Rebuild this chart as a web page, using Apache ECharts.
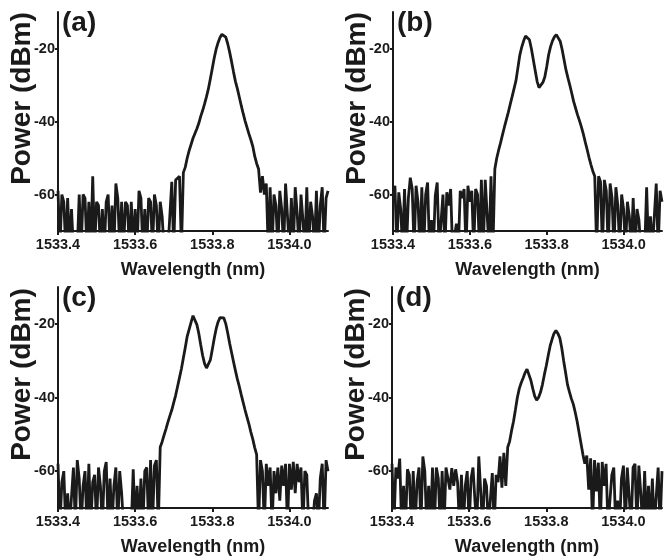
<!DOCTYPE html>
<html>
<head>
<meta charset="utf-8">
<title>Spectra</title>
<script src="https://cdn.jsdelivr.net/npm/echarts@6.0.0/dist/echarts.min.js"></script>
<style>
html, body { margin: 0; padding: 0; background: #fff; }
#main { width: 667px; height: 560px; }
</style>
</head>
<body>
<div id="main"></div>
<script>
// sampling of the traces: one value every 0.005 nm from 1533.400 nm
var wlStart = 1533.4;
var wlStep = 0.005;
var xTicks = [1533.4, 1533.6, 1533.8, 1534.0];
var yTicks = [-60, -40, -20];
var panelLabels = ['(a)', '(b)', '(c)', '(d)'];

// power in dBm (values below -70 sit under the axis floor)
var powerA = [
  -59, -75, -60, -62, -75, -61, -75, -64, -75, -75,
  -75, -60, -75, -60, -61, -75, -62, -75, -55, -75,
  -62, -63, -75, -64, -75, -62, -60, -75, -63, -75,
  -57, -61, -75, -62, -75, -62, -63, -75, -62, -75,
  -64, -75, -59, -61, -75, -64, -75, -61, -62, -75,
  -60, -63, -75, -62, -66, -75, -75, -75, -75, -56.5,
  -75, -56, -56.5, -55, -75, -54, -52.5, -50, -48, -46.3,
  -44.6, -43.3, -42, -40.5, -38.6, -37, -35.2, -33.2, -31, -28.3,
  -25.5, -22.6, -20.2, -18.4, -17, -16.1, -15.9, -16.9, -18.7, -21,
  -23.6, -26.4, -29, -31, -33.3, -35.6, -37.8, -39.8, -41.6, -43.4,
  -45, -46.8, -49.5, -51.5, -53, -59.5, -55, -60, -57, -75,
  -58, -75, -60, -63, -75, -59, -64, -75, -57, -66,
  -75, -61, -75, -58, -65, -75, -60, -67, -75, -58,
  -75, -62, -66, -75, -59, -75, -63, -58, -75, -61, -59
];

var powerB = [
  -60, -57.6, -75, -59.4, -64, -75, -58.5, -75, -61, -55.4,
  -58.5, -75, -57.6, -62, -75, -58, -75, -60, -56.7, -75,
  -67, -75, -60.3, -56.7, -75, -75, -60, -75, -59.4, -63,
  -58.5, -75, -75, -68, -75, -59, -61, -58.5, -75, -57.6,
  -62, -59, -75, -58.5, -60, -75, -56, -75, -56, -55.5,
  -75, -55, -75, -53, -50, -47.8, -45.8, -43.6, -41.5, -39.5,
  -37.5, -35.3, -33.2, -31, -28.8, -25.3, -21.8, -19.6, -17.9, -16.6,
  -16.1, -17.6, -20, -23, -26, -29, -30.7, -30.4, -29.3, -27.8,
  -25, -21.7, -19.5, -17.9, -16.8, -16.2, -16.2, -18, -20.2, -23,
  -25.8, -28, -30, -32.2, -34.5, -36.3, -38.1, -39.7, -41.4, -43.3,
  -45.5, -47.6, -49.8, -51.8, -53.6, -55, -75, -55, -56.5, -75,
  -56, -59, -75, -57, -61, -75, -58, -63, -75, -60,
  -64, -75, -62, -66, -75, -61, -75, -64, -67, -75,
  -75, -75, -58, -75, -66, -75, -75, -57, -75, -59, -62
];

var powerC = [
  -58, -75, -63, -60, -75, -66, -75, -75, -59, -75,
  -57, -62, -75, -64, -60, -75, -58, -75, -63, -61,
  -75, -59, -64, -75, -60, -57.5, -75, -62, -75, -64,
  -59, -75, -60, -66, -75, -75, -75, -75, -75, -59.5,
  -75, -64, -75, -62, -75, -60, -59, -75, -57, -75,
  -58.5, -57, -75, -53.5, -52, -50.2, -48.5, -46.7, -45, -43.4,
  -41.4, -39.4, -37, -34.6, -32.2, -29.3, -26.4, -23.4, -21.5, -19.6,
  -17.8, -18.2, -20.2, -22.6, -25.7, -28.6, -30.8, -32, -31.6, -29.8,
  -27, -24, -21.4, -19.5, -18.3, -17.8, -18.4, -20, -22.5, -25.3,
  -27.8, -30.3, -32.7, -35, -37, -39.2, -41.3, -43.4, -45.3, -47.2,
  -49.4, -51.3, -53.6, -55.5, -75, -57, -60, -75, -58, -64,
  -59, -75, -60, -66, -59, -68, -58.5, -64, -58, -75,
  -58, -65, -57.5, -66, -58, -63, -59, -75, -60, -61,
  -75, -75, -75, -68, -66, -75, -62, -58, -75, -57, -60
];

var powerD = [
  -58, -75, -59, -62, -56.6, -75, -64, -75, -59.5, -61,
  -75, -60, -75, -63, -59, -75, -56, -60, -75, -64,
  -75, -59, -75, -59, -62, -75, -60, -75, -59, -59.2,
  -65, -59.2, -64, -59.5, -63, -75, -61, -75, -64, -60,
  -75, -62, -59, -68, -75, -56, -55.5, -75, -62, -64,
  -75, -75, -60.5, -75, -61, -63, -56, -64.5, -55, -64,
  -53.5, -51.9, -49, -46.5, -43.3, -40, -37.6, -36, -34.7, -33.3,
  -32.3, -32.6, -35.3, -37.6, -39.6, -40.7, -40, -38.6, -36.5, -33.8,
  -31.4, -28.6, -26, -24.2, -22.6, -21.8, -22.6, -23.8, -26.5, -30,
  -33.2, -36.5, -38.5, -40.3, -41.8, -44, -46.5, -49.5, -52.5, -55.5,
  -58, -55.8, -65, -56.5, -75, -57, -65.5, -57.7, -75, -57.5,
  -64, -58, -75, -75, -61, -59, -75, -68, -75, -62,
  -58.5, -75, -59, -58.5, -75, -59, -58, -75, -58.5, -66,
  -75, -60, -75, -64, -75, -62, -75, -75, -59, -75, -60
];

var traces = [powerA, powerB, powerC, powerD];

var dom = document.getElementById('main');
var myChart = echarts.init(dom, null, { renderer: 'canvas' });

var ink = '#1a1a1a';
var sans = '"Liberation Sans", Arial, sans-serif';

var grids = [
  { left: 58, top: 12, width: 270, height: 219 },
  { left: 393, top: 12, width: 269, height: 219 },
  { left: 58, top: 287, width: 270, height: 221 },
  { left: 392, top: 287, width: 270, height: 221 }
];

function toPoints(arr) {
  return arr.map(function (v, i) {
    return [+(wlStart + i * wlStep).toFixed(3), v];
  });
}

var option = {
  animation: false,
  backgroundColor: '#fff',
  title: panelLabels.map(function (t, k) {
    return {
      text: t,
      left: grids[k].left + 4,
      top: grids[k].top - 3,
      padding: 0,
      textStyle: { fontFamily: sans, fontWeight: 'bold', fontSize: 28, color: ink }
    };
  }),
  grid: grids,
  xAxis: grids.map(function (g, k) {
    return {
      gridIndex: k,
      type: 'value',
      min: 1533.4,
      max: 1534.1,
      name: 'Wavelength (nm)',
      nameLocation: 'middle',
      nameGap: 30,
      nameMoveOverlap: false,
      nameTextStyle: { fontFamily: sans, fontWeight: 'bold', fontSize: 18, color: ink },
      axisLine: { show: true, onZero: false, lineStyle: { color: ink, width: 2 } },
      axisTick: { show: true, length: 4, customValues: xTicks, lineStyle: { color: ink, width: 2 } },
      axisLabel: {
        customValues: xTicks,
        margin: 6,
        fontFamily: sans, fontWeight: 'bold', fontSize: 14.5, color: ink,
        formatter: function (v) { return v.toFixed(1); }
      },
      splitLine: { show: false }
    };
  }),
  yAxis: grids.map(function (g, k) {
    return {
      gridIndex: k,
      type: 'value',
      min: -70,
      max: -10,
      name: 'Power (dBm)',
      nameLocation: 'middle',
      nameGap: 22,
      nameMoveOverlap: false,
      nameTextStyle: { fontFamily: sans, fontWeight: 'bold', fontSize: 28, color: ink, padding: [0, 0, 0, 46] },
      axisLine: { show: true, onZero: false, lineStyle: { color: ink, width: 2 } },
      axisTick: { show: true, length: 3, customValues: yTicks, lineStyle: { color: ink, width: 2 } },
      axisLabel: {
        customValues: yTicks,
        margin: 3,
        fontFamily: sans, fontWeight: 'bold', fontSize: 14.5, color: ink,
        formatter: function (v) { return String(Math.round(v)); }
      },
      splitLine: { show: false }
    };
  }),
  series: traces.map(function (arr, k) {
    return {
      type: 'line',
      xAxisIndex: k,
      yAxisIndex: k,
      showSymbol: false,
      symbol: 'none',
      clip: true,
      lineStyle: { color: ink, width: 2.8 },
      data: toPoints(arr)
    };
  })
};

if (option && typeof option === 'object') {
  myChart.setOption(option);
}

window.addEventListener('resize', myChart.resize);
</script>
</body>
</html>
